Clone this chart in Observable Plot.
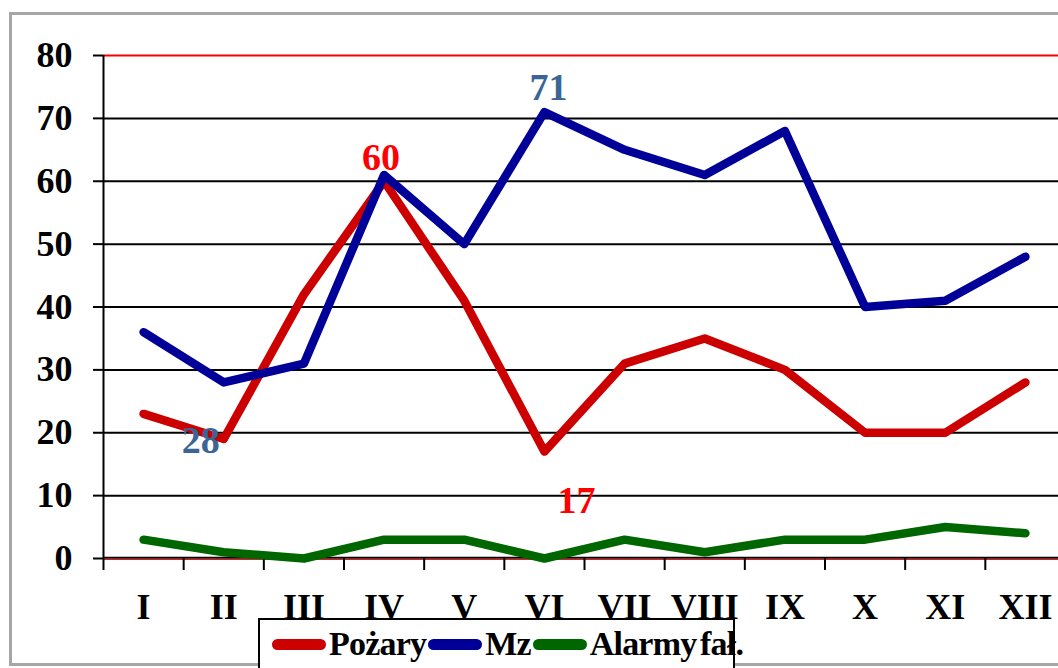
<!DOCTYPE html>
<html>
<head>
<meta charset="utf-8">
<script src="https://cdn.jsdelivr.net/npm/d3@7"></script>
<script src="https://cdn.jsdelivr.net/npm/@observablehq/plot@0.6"></script>
<style>
  html, body { margin: 0; padding: 0; background: #fff; }
  #wrap { position: relative; width: 1058px; height: 668px; overflow: hidden; background: #fff; }
  #frame { position: absolute; left: 9px; top: 12px; width: 1100px; height: 654px; border: 3px solid #a6a6a6; box-sizing: border-box; }
  #chart { position: absolute; left: 0; top: 0; }
  #legend { position: absolute; left: 258px; top: 618px; width: 477px; height: 60px; border: 2px solid #000; box-sizing: border-box; background: #fff;
    display: flex; align-items: flex-start; padding-top: 3px; padding-left: 10px;
    font-family: "Liberation Serif", serif; font-weight: bold; font-size: 34px; letter-spacing: -0.8px; word-spacing: -4px; color: #000; }
  .item { display: flex; align-items: center; height: 42px; white-space: nowrap; }
  .sw { width: 54px; height: 11px; border-radius: 6px; margin-right: 3px; margin-left: 2px; }
</style>
</head>
<body>
<div id="wrap">
  <div id="frame"></div>
  <div id="chart"></div>
  <div id="legend"></div>
</div>
<script>
const months = ["I","II","III","IV","V","VI","VII","VIII","IX","X","XI","XII"];
const pozary = [23, 19, 42, 60, 41, 17, 31, 35, 30, 20, 20, 28];
const mz     = [36, 28, 31, 61, 50, 71, 65, 61, 68, 40, 41, 48];
const alarmy = [3, 1, 0, 3, 3, 0, 3, 1, 3, 3, 5, 4];
const seriesNames = ["Pożary", "Mz", "Alarmy fał."];
const seriesColors = ["#cc0000", "#000099", "#006600"];
const yTicks = [0, 10, 20, 30, 40, 50, 60, 70, 80];

// data labels: series index, month index, colour, offset from the point
const labelSpecs = [
  {s: 1, m: 1, color: "#3a6595", dx: -23, dy: 58},
  {s: 0, m: 3, color: "#ff0000", dx: -3, dy: -23},
  {s: 1, m: 5, color: "#3a6595", dx: 4, dy: -24},
  {s: 0, m: 5, color: "#ff0000", dx: 32, dy: 49}
];

const seriesValues = [pozary, mz, alarmy];
const rows = seriesValues.flatMap((vals, s) =>
  vals.map((v, i) => ({series: seriesNames[s], s, x: i + 0.5, y: v, month: months[i]})));
const labels = labelSpecs.map(d => ({...d, x: d.m + 0.5, y: seriesValues[d.s][d.m], text: String(seriesValues[d.s][d.m])}));

const font = "Liberation Serif";
const marks = [
  Plot.gridY(yTicks.filter(t => t > 0 && t < 80), {stroke: "#000", strokeOpacity: 1, strokeWidth: 2}),
  Plot.ruleY([80], {stroke: "#ff0000", strokeWidth: 2}),
  Plot.ruleY([0], {stroke: "#b03030", strokeWidth: 3}),
  Plot.ruleY([0], {stroke: "#000", strokeWidth: 1.5, dy: -1}),
  Plot.ruleX([0], {stroke: "#000", strokeWidth: 2}),
  Plot.axisY({ticks: yTicks, tickSize: 10, tickPadding: 21, tickFormat: d => String(d), label: null,
    stroke: "#000", strokeWidth: 2, fill: "#000", fontSize: 36, fontWeight: "bold"}),
  Plot.axisX({ticks: d3.range(13), tickSize: 12, tickFormat: () => "", label: null, stroke: "#000", strokeWidth: 2}),
  Plot.axisX({ticks: d3.range(12).map(i => i + 0.5), tickSize: 0, tickPadding: 35, label: null,
    tickFormat: d => months[Math.floor(d)], fill: "#000", fontSize: 36, fontWeight: "bold"})
];
seriesNames.forEach((name, s) => {
  marks.push(Plot.line(rows.filter(r => r.s === s), {x: "x", y: "y", stroke: seriesColors[s], strokeWidth: 8.5,
    strokeLinejoin: "round", strokeLinecap: "round"}));
});
labels.forEach(l => marks.push(Plot.text([l], {x: "x", y: "y", text: "text", fill: l.color, dx: l.dx, dy: l.dy,
  fontSize: 38, fontWeight: "bold", fontFamily: font})));

const chart = Plot.plot({
  width: 1058,
  height: 668,
  marginTop: 55,
  marginBottom: 110,
  marginLeft: 103,
  marginRight: 0,
  x: {type: "linear", domain: [0, 12], range: [103, 1065]},
  y: {domain: [0, 80], range: [558, 55]},
  style: {fontFamily: font, fontWeight: "bold", background: "transparent", color: "#000", overflow: "hidden"},
  marks
});
document.getElementById("chart").appendChild(chart);

const legend = document.getElementById("legend");
seriesNames.forEach((name, s) => {
  const item = document.createElement("div");
  item.className = "item";
  const sw = document.createElement("div");
  sw.className = "sw";
  sw.style.background = seriesColors[s];
  const t = document.createElement("span");
  t.textContent = name;
  item.appendChild(sw);
  item.appendChild(t);
  legend.appendChild(item);
});
</script>
</body>
</html>
